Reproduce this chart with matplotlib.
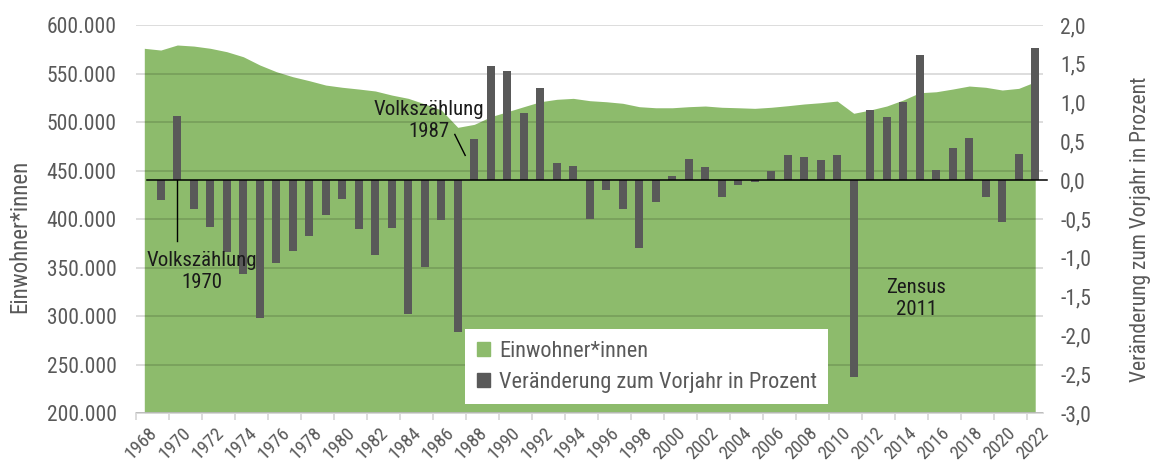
import numpy as np
import matplotlib
matplotlib.use("Agg")
import matplotlib.pyplot as plt
from matplotlib.patches import Patch
from matplotlib.transforms import ScaledTranslation
from matplotlib.ticker import FuncFormatter, MultipleLocator

plt.rcParams['font.family'] = ['Roboto Condensed', 'DejaVu Sans']

years = list(range(1968, 2023))
einwohner = [576000, 574200, 579400, 578300, 576000, 572500, 567300, 558800, 551900, 546700,
             542600, 538100, 535800, 534000, 532000, 527800, 524400, 518600, 512400, 494500,
             497600, 505500, 510600, 515800, 520900, 523400, 524400, 522000, 520900, 519300,
             515800, 514700, 514700, 515800, 516500, 515200, 514700, 514100, 515200, 516800,
             518600, 519900, 521600, 509000, 512400, 516500, 522700, 530200, 531200, 534000,
             537100, 535800, 533000, 534700, 541500]
# change to previous year, from 1969
change_years = years[1:]
veraenderung = [-0.26, 0.83, -0.37, -0.60, -0.92, -1.21, -1.77, -1.07, -0.91, -0.72,
                -0.45, -0.24, -0.63, -0.96, -0.62, -1.73, -1.12, -0.51, -1.95, 0.53,
                1.47, 1.41, 0.87, 1.19, 0.22, 0.18, -0.50, -0.12, -0.37, -0.87,
                -0.28, 0.05, 0.27, 0.17, -0.22, -0.06, -0.025, 0.12, 0.33, 0.30,
                0.26, 0.33, -2.53, 0.91, 0.82, 1.01, 1.62, 0.13, 0.41, 0.55,
                -0.22, -0.54, 0.34, 1.70]

green = '#8dbb6c'
dark = '#595959'
txt = '#595959'

fig = plt.figure(figsize=(11.53, 4.66), dpi=100)
ax = fig.add_axes([0.118, 0.1137, 0.787, 0.8326])
ax2 = ax.twinx()

ax.fill_between(years, 200000, einwohner, color=green, lw=0, zorder=1)
ax.set_ylim(200000, 600000)
ax.set_xlim(1967.5, 2022.5)
ax.yaxis.set_major_locator(MultipleLocator(50000))
ax.yaxis.set_major_formatter(FuncFormatter(lambda v, p: f"{int(v):,}".replace(',', '.')))
ax.set_axisbelow(False)
ax.yaxis.grid(True, color='black', alpha=0.15, lw=1.3)

ax2.bar(change_years, veraenderung, width=0.47, color=dark, zorder=3)
ax2.set_ylim(-3.0, 2.0)
ax2.yaxis.set_major_locator(MultipleLocator(0.5))
ax2.yaxis.set_major_formatter(FuncFormatter(lambda v, p: f"{v:.1f}".replace('.', ',')))
ax2.axhline(0, xmin=0.012, xmax=1.004, color='black', lw=1.1, clip_on=False, zorder=4)

for a in (ax, ax2):
    for s in a.spines.values():
        s.set_visible(False)
    a.tick_params(axis='y', length=0, labelsize=15.5, labelcolor=txt)
ax.tick_params(axis='y', pad=14)
ax2.tick_params(axis='y', pad=12)
ax.spines['bottom'].set_visible(True)
ax.spines['bottom'].set_color('#d9d9d9')
ax.spines['bottom'].set_linewidth(1.3)

ax.set_xticks(years[::2])
ax.set_xticklabels([str(y) for y in years[::2]], rotation=45, ha='right',
                   rotation_mode='anchor', fontsize=13.5, color=txt)
ax.tick_params(axis='x', which='major', length=0, pad=8)
shift = ScaledTranslation(3 / 72, 0, fig.dpi_scale_trans)
for lab in ax.get_xticklabels():
    lab.set_transform(lab.get_transform() + shift)
ax.set_xticks(np.arange(1967.5, 2023, 2), minor=True)
ax.tick_params(axis='x', which='minor', length=5, color='#d9d9d9', width=1.3)

ax.set_ylabel('Einwohner*innen', fontsize=16.5, color=txt)
ax.yaxis.set_label_coords(-0.115, 0.456)
ax2.set_ylabel('Veränderung zum Vorjahr in Prozent', fontsize=15.5, color=txt)
ax2.yaxis.set_label_coords(1.095, 0.474)

ann = dict(fontsize=15, color='#1a1a1a', ha='center', va='center', multialignment='center')
ax2.text(1985.25, 0.77, 'Volkszählung\n1987', **ann)
ax2.plot([1986.82, 1987.45], [0.59, 0.32], color='black', lw=1)
ax2.text(1971.5, -1.17, 'Volkszählung\n1970', **ann)
ax2.plot([1970, 1970], [0, -0.78], color='black', lw=1)
ax2.text(2014.8, -1.52, 'Zensus\n2011', **ann)

handles = [Patch(color=green), Patch(color=dark)]
leg = ax2.legend(handles, ['Einwohner*innen', 'Veränderung zum Vorjahr in Prozent'],
                 loc='lower left', bbox_to_anchor=(0.363, 0.024), frameon=True,
                 fancybox=False, framealpha=1, edgecolor='white', fontsize=16,
                 handlelength=0.6, handleheight=0.6, handletextpad=0.4,
                 labelspacing=0.45, borderpad=0.5, borderaxespad=0)
leg.get_frame().set_linewidth(0)
for t in leg.get_texts():
    t.set_color(txt)

fig.savefig('out.png', dpi=100)
